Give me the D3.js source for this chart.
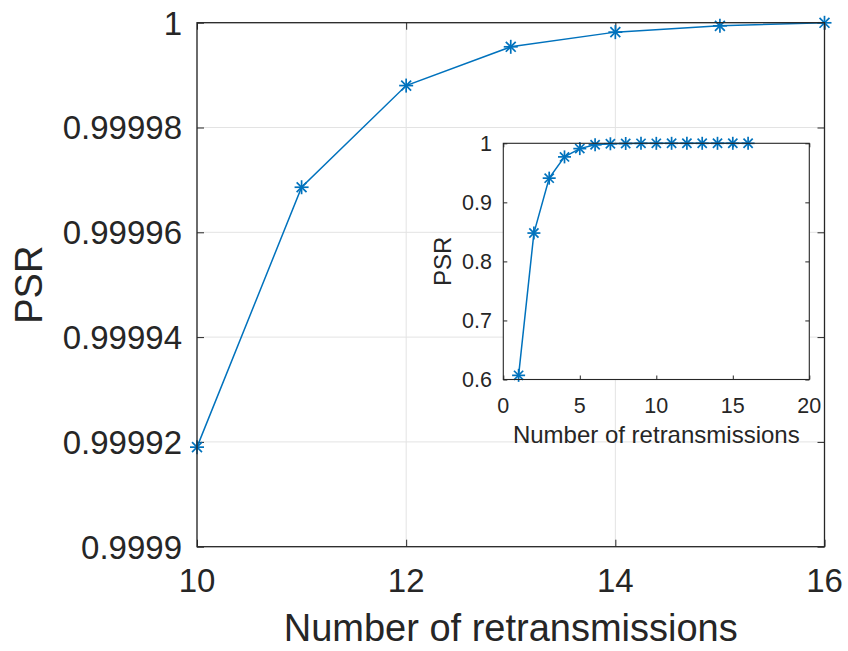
<!DOCTYPE html>
<html><head><meta charset="utf-8">
<script src="https://cdn.jsdelivr.net/npm/d3@7"></script>
<style>
body{margin:0;background:#fff;}
svg{display:block;}
text{font-family:"Liberation Sans",Arial,Helvetica,sans-serif;fill:#262626;}
</style></head>
<body>
<svg id="chart" width="848" height="651"></svg>
<script>
// ---- data ----
const mainX = [10, 11, 12, 13, 14, 15, 16];
const mainY = [0.999919, 0.9999686, 0.999988, 0.9999954, 0.9999982, 0.9999994, 0.99999998];
const mainXTicks = [10, 12, 14, 16];
const mainYTicks = [0.9999, 0.99992, 0.99994, 0.99996, 0.99998, 1];
const mainYTickLabels = ["0.9999", "0.99992", "0.99994", "0.99996", "0.99998", "1"];

const insetX = [1, 2, 3, 4, 5, 6, 7, 8, 9, 10, 11, 12, 13, 14, 15, 16];
const insetY = [0.607, 0.848, 0.941, 0.977, 0.991, 0.9975, 0.9992, 0.9997, 0.9999, 0.999919, 0.9999686, 0.999988, 0.9999954, 0.9999982, 0.9999994, 0.99999998];
const insetXTicks = [0, 5, 10, 15, 20];
const insetYTicks = [0.6, 0.7, 0.8, 0.9, 1];
const insetYTickLabels = ["0.6", "0.7", "0.8", "0.9", "1"];

const xLabel = "Number of retransmissions";
const yLabel = "PSR";

// ---- drawing ----
const svg = d3.select("#chart");
const blue = "#0072BD";
const axisCol = "#262626";

function star(g, xs, ys, xv, yv, r, sw) {
  const pts = xv.map((d, i) => [xs(d), ys(yv[i])]);
  const sel = g.selectAll(null).data(pts).enter().append("g")
    .attr("transform", d => `translate(${d[0]},${d[1]})`);
  const k = r * Math.SQRT1_2;
  const segs = [[-r,0,r,0],[0,-r,0,r],[-k,-k,k,k],[-k,k,k,-k]];
  segs.forEach(s => sel.append("line")
    .attr("x1", s[0]).attr("y1", s[1]).attr("x2", s[2]).attr("y2", s[3])
    .attr("stroke", blue).attr("stroke-width", sw));
}

function panel(opts) {
  const {x0, x1, y0, y1, xDom, yDom, xTicks, yTicks, yTickLabels, grid,
         tickFont, labelFont, tickLen, xTickBase, yTickRight, xLabelBase, yLabelX,
         xv, yv, starR, lineW, boxW} = opts;
  const xs = d3.scaleLinear().domain(xDom).range([x0, x1]);
  const ys = d3.scaleLinear().domain(yDom).range([y1, y0]);
  const g = svg.append("g");
  g.append("rect").attr("x", x0).attr("y", y0).attr("width", x1 - x0).attr("height", y1 - y0)
    .attr("fill", "#fff");
  if (grid) {
    g.selectAll(null).data(xTicks).enter().append("line")
      .attr("x1", d => xs(d)).attr("x2", d => xs(d)).attr("y1", y0).attr("y2", y1)
      .attr("stroke", "#e3e3e3").attr("stroke-width", 1);
    g.selectAll(null).data(yTicks).enter().append("line")
      .attr("y1", d => ys(d)).attr("y2", d => ys(d)).attr("x1", x0).attr("x2", x1)
      .attr("stroke", "#e3e3e3").attr("stroke-width", 1);
  }
  // axes via d3 (inward ticks on all four sides)
  const ax = [
    [d3.axisBottom(xs).tickValues(xTicks).tickSizeInner(-tickLen).tickSizeOuter(0).tickFormat(""), `translate(0,${y1})`],
    [d3.axisTop(xs).tickValues(xTicks).tickSizeInner(-tickLen).tickSizeOuter(0).tickFormat(""), `translate(0,${y0})`],
    [d3.axisLeft(ys).tickValues(yTicks).tickSizeInner(-tickLen).tickSizeOuter(0).tickFormat(""), `translate(${x0},0)`],
    [d3.axisRight(ys).tickValues(yTicks).tickSizeInner(-tickLen).tickSizeOuter(0).tickFormat(""), `translate(${x1},0)`]
  ];
  ax.forEach(([a, t]) => {
    const ag = g.append("g").attr("transform", t).call(a);
    ag.select(".domain").remove();
    ag.selectAll(".tick line").attr("stroke", axisCol).attr("stroke-width", 1);
  });
  // data line + markers
  const line = d3.line().x((d, i) => xs(xv[i])).y((d, i) => ys(yv[i]));
  g.append("path").datum(yv).attr("d", line).attr("fill", "none")
    .attr("stroke", blue).attr("stroke-width", lineW);
  star(g, xs, ys, xv, yv, starR, lineW + 0.2);
  // box
  g.append("rect").attr("x", x0).attr("y", y0).attr("width", x1 - x0).attr("height", y1 - y0)
    .attr("fill", "none").attr("stroke", axisCol).attr("stroke-width", boxW);
  // tick labels
  g.selectAll(null).data(xTicks).enter().append("text")
    .attr("x", d => xs(d)).attr("y", xTickBase).attr("text-anchor", "middle")
    .style("font-size", tickFont + "px").text(d => d);
  g.selectAll(null).data(yTicks).enter().append("text")
    .attr("x", yTickRight).attr("y", d => ys(d)).attr("dy", "0.36em").attr("text-anchor", "end")
    .style("font-size", tickFont + "px").text((d, i) => yTickLabels[i]);
  // axis labels
  g.append("text").attr("x", (x0 + x1) / 2).attr("y", xLabelBase).attr("text-anchor", "middle")
    .style("font-size", labelFont + "px").text(xLabel);
  g.append("text").attr("transform", `translate(${yLabelX},${(y0 + y1) / 2}) rotate(-90)`)
    .attr("text-anchor", "middle").style("font-size", labelFont + "px").text(yLabel);
}

panel({x0: 197, x1: 824.5, y0: 22.7, y1: 546.7, xDom: [10, 16], yDom: [0.9999, 1],
  xTicks: mainXTicks, yTicks: mainYTicks, yTickLabels: mainYTickLabels, grid: true,
  tickFont: 33, labelFont: 38, tickLen: 7, xTickBase: 592, yTickRight: 182,
  xLabelBase: 641, yLabelX: 42, xv: mainX, yv: mainY, starR: 7, lineW: 1.5, boxW: 1.3});

panel({x0: 503.3, x1: 809.3, y0: 143.3, y1: 379.5, xDom: [0, 20], yDom: [0.6, 1],
  xTicks: insetXTicks, yTicks: insetYTicks, yTickLabels: insetYTickLabels, grid: false,
  tickFont: 21.5, labelFont: 24, tickLen: 4, xTickBase: 413, yTickRight: 492,
  xLabelBase: 443, yLabelX: 451, xv: insetX, yv: insetY, starR: 6.5, lineW: 1.5, boxW: 1.1});
</script>
</body></html>
